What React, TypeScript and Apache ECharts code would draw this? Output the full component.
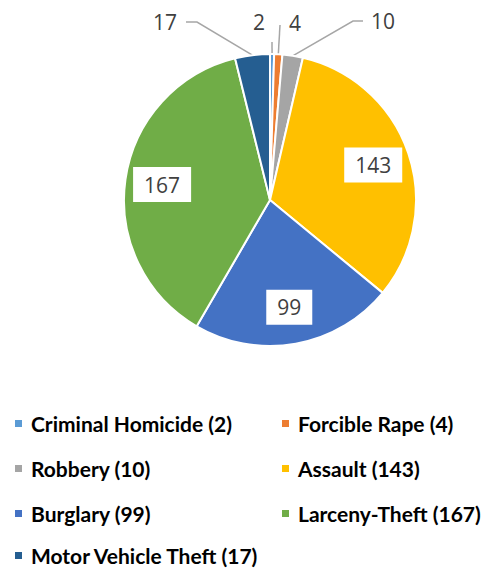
import React, { useEffect, useRef } from "react";
import * as echarts from "echarts";

const categories = [
  "Criminal Homicide",
  "Forcible Rape",
  "Robbery",
  "Assault",
  "Burglary",
  "Larceny-Theft",
  "Motor Vehicle Theft",
];
const values = [2, 4, 10, 143, 99, 167, 17];
const colors = ["#5B9BD5", "#ED7D31", "#A5A5A5", "#FFC000", "#4472C4", "#70AD47", "#255E91"];
const insideLabelled = ["Assault", "Burglary", "Larceny-Theft"];

// legend layout: [left, centerY]
const legendSlots: [number, number][] = [
  [13, 423],
  [280, 423],
  [13, 468],
  [280, 468],
  [13, 513],
  [280, 513],
  [13, 555],
];

// outside label placement per category: label anchor, align, leader bend points
const outsideLayout: Record<string, { x: number; y: number; align: string; pts: [number, number][] }> = {
  "Motor Vehicle Theft": { x: 177, y: 22, align: "right", pts: [[197, 22], [186, 22]] },
  "Criminal Homicide": { x: 259, y: 22, align: "center", pts: [[272, 42], [272, 42]] },
  "Forcible Rape": { x: 295, y: 23, align: "center", pts: [[280, 25], [280, 25]] },
  Robbery: { x: 371, y: 21, align: "left", pts: [[353, 21], [363, 21]] },
};

export default function App() {
  const ref = useRef<HTMLDivElement>(null);
  useEffect(() => {
    document.body.style.margin = "0";
    const chart = echarts.init(ref.current!, undefined, { renderer: "svg" });
    const names = categories.map((c, i) => `${c} (${values[i]})`);
    const legends = names.map((n, i) => ({
      show: true,
      data: [n],
      left: legendSlots[i][0],
      top: legendSlots[i][1] - 10,
      padding: 0,
      itemWidth: 9,
      itemHeight: 9,
      icon: "rect",
      selectedMode: false,
      textStyle: {
        fontFamily: "Lato",
        fontWeight: "bold",
        fontSize: 21,
        color: "#000",
        padding: [0, 0, 0, 3],
        lineHeight: 20,
      },
    }));
    const mainData = names.map((n, i) => ({
      name: n,
      value: values[i],
      itemStyle: { color: colors[i] },
      label: insideLabelled.includes(categories[i]) ? { show: false } : { show: true },
      labelLine: insideLabelled.includes(categories[i]) ? { show: false } : { show: true },
    }));
    const overlayData = names.map((n, i) => ({
      name: n + " ",
      value: values[i],
      label: insideLabelled.includes(categories[i]) ? { show: true } : { show: false },
    }));
    chart.setOption({
      animation: false,
      legend: legends,
      series: [
        {
          type: "pie",
          center: [270, 200],
          radius: [0, 146],
          startAngle: 90,
          clockwise: true,
          avoidLabelOverlap: false,
          data: mainData,
          itemStyle: { borderColor: "#fff", borderWidth: 2 },
          label: {
            position: "outside",
            formatter: (p: any) => String(p.value),
            fontFamily: "Open Sans",
            fontSize: 21,
            color: "#404040",
          },
          labelLine: {
            length: 20,
            length2: 10,
            lineStyle: { color: "#A6A6A6", width: 1.5 },
          },
          labelLayout: (params: any) => {
            const cat = categories[params.dataIndex];
            const lay = outsideLayout[cat];
            if (!lay || !params.labelLinePoints) return {};
            const start = params.labelLinePoints[0];
            return {
              x: lay.x,
              y: lay.y,
              align: lay.align,
              verticalAlign: "middle",
              labelLinePoints: [start, lay.pts[0], lay.pts[1]],
            };
          },
          emphasis: { disabled: true },
        },
        {
          type: "pie",
          center: [270, 200],
          radius: [66, 146],
          startAngle: 90,
          clockwise: true,
          silent: true,
          data: overlayData,
          itemStyle: { color: "rgba(0,0,0,0)" },
          label: {
            position: "inside",
            formatter: (p: any) => String(p.value),
            fontFamily: "Open Sans",
            fontSize: 21,
            color: "#404040",
            backgroundColor: "#fff",
            padding: [7, 11],
          },
          labelLine: { show: false },
          emphasis: { disabled: true },
        },
      ],
    });
    return () => chart.dispose();
  }, []);
  return <div ref={ref} style={{ width: 493, height: 569 }} />;
}
